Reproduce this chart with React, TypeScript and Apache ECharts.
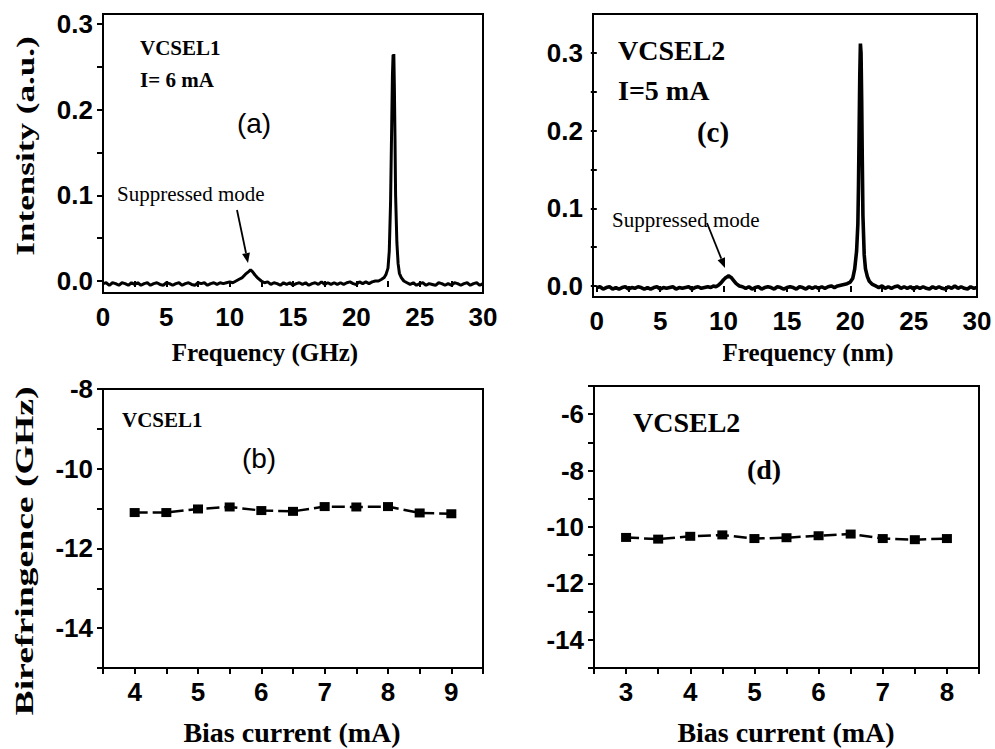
import React, { useEffect, useRef } from "react";
import * as echarts from "echarts";

// ---- Data ----
// (a) VCSEL1 spectrum, I = 6 mA  [frequency GHz, intensity a.u.]
const specA: [number, number][] = [
  [0, -0.003], [0.25, -0.002], [0.5, -0.005], [0.75, -0.002], [1, -0.003], [1.25, -0.005], [1.5, -0.002], [1.75, -0.003],
  [2, -0.005], [2.25, -0.002], [2.5, -0.004], [2.75, -0.002], [3, -0.005], [3.25, -0.003], [3.5, -0.002], [3.75, -0.005],
  [4, -0.003], [4.25, -0.002], [4.5, -0.004], [4.75, -0.005], [5, -0.002], [5.25, -0.003], [5.5, -0.005], [5.75, -0.003],
  [6, -0.002], [6.25, -0.005], [6.5, -0.003], [6.75, -0.002], [7, -0.004], [7.25, -0.005], [7.5, -0.002], [7.75, -0.003],
  [8, -0.002], [8.25, -0.005], [8.5, -0.003], [8.75, -0.002], [9, -0.004], [9.25, -0.002], [9.5, -0.003], [9.75, -0.002],
  [10, -0.001], [10.25, -0.002], [10.5, 0.0], [10.75, 0.002], [11, 0.004], [11.25, 0.008], [11.5, 0.011], [11.65, 0.013],
  [11.8, 0.011], [12, 0.007], [12.25, 0.003], [12.5, 0.0], [12.75, -0.002], [13, -0.001], [13.25, -0.004], [13.5, -0.002],
  [13.75, -0.003], [14, -0.005], [14.25, -0.002], [14.5, -0.004], [14.75, -0.002], [15, -0.005], [15.25, -0.003], [15.5, -0.002],
  [15.75, -0.004], [16, -0.002], [16.25, -0.005], [16.5, -0.003], [16.75, -0.002], [17, -0.004], [17.25, -0.001], [17.5, -0.004],
  [17.75, -0.002], [18, -0.004], [18.25, -0.002], [18.5, -0.004], [18.75, -0.002], [19, -0.004], [19.25, -0.002], [19.5, -0.001],
  [19.75, -0.003], [20, -0.004], [20.25, -0.001], [20.5, -0.003], [20.75, -0.001], [21, -0.003], [21.25, -0.001], [21.5, 0.0],
  [21.75, 0.0], [22, 0.002], [22.2, 0.004], [22.35, 0.008], [22.5, 0.015], [22.6, 0.035], [22.7, 0.09], [22.8, 0.19],
  [22.85, 0.24], [22.9, 0.264], [22.93, 0.24], [22.96, 0.265], [23.0, 0.23], [23.05, 0.17], [23.1, 0.1], [23.2, 0.045],
  [23.3, 0.02], [23.4, 0.009], [23.55, 0.004], [23.75, 0.0], [24, -0.002], [24.25, -0.004], [24.5, -0.002], [24.75, -0.005],
  [25, -0.003], [25.25, -0.002], [25.5, -0.005], [25.75, -0.003], [26, -0.004], [26.25, -0.005], [26.5, -0.002], [26.75, -0.003],
  [27, -0.005], [27.25, -0.003], [27.5, -0.005], [27.75, -0.002], [28, -0.003], [28.25, -0.005], [28.5, -0.003], [28.75, -0.002],
  [29, -0.005], [29.25, -0.003], [29.5, -0.002], [29.75, -0.005], [30, -0.003],
];

// (c) VCSEL2 spectrum, I = 5 mA  [frequency, intensity a.u.]
const specC: [number, number][] = [
  [0, -0.002], [0.25, -0.001], [0.5, -0.004], [0.75, -0.002], [1, -0.001], [1.25, -0.004], [1.5, -0.002], [1.75, -0.004],
  [2, -0.002], [2.25, -0.001], [2.5, -0.004], [2.75, -0.002], [3, -0.003], [3.25, -0.001], [3.5, -0.002], [3.75, -0.004],
  [4, -0.002], [4.25, -0.004], [4.5, -0.002], [4.75, -0.001], [5, -0.004], [5.25, -0.002], [5.5, -0.003], [5.75, -0.002],
  [6, -0.001], [6.25, -0.004], [6.5, -0.002], [6.75, -0.003], [7, -0.002], [7.25, -0.001], [7.5, -0.004], [7.75, -0.002],
  [8, -0.001], [8.25, -0.003], [8.5, -0.002], [8.75, -0.001], [9, -0.002], [9.2, 0.0], [9.4, -0.001], [9.6, 0.001],
  [9.8, 0.004], [10, 0.008], [10.2, 0.011], [10.4, 0.013], [10.6, 0.011], [10.8, 0.007], [11, 0.003], [11.25, 0.0],
  [11.5, -0.001], [11.75, -0.003], [12, -0.001], [12.25, -0.004], [12.5, -0.002], [12.75, -0.001], [13, -0.004], [13.25, -0.002],
  [13.5, -0.001], [13.75, -0.002], [14, -0.004], [14.25, -0.001], [14.5, -0.002], [14.75, -0.004], [15, -0.002], [15.25, -0.001],
  [15.5, -0.002], [15.75, -0.004], [16, -0.001], [16.25, -0.002], [16.5, -0.004], [16.75, -0.001], [17, -0.003], [17.25, -0.001],
  [17.5, -0.003], [17.75, -0.001], [18, -0.003], [18.25, -0.001], [18.5, 0.0], [18.75, -0.002], [19, 0.0], [19.25, 0.001],
  [19.5, 0.002], [19.75, 0.003], [20, 0.005], [20.2, 0.01], [20.35, 0.022], [20.5, 0.045], [20.6, 0.08], [20.65, 0.13],
  [20.7, 0.2], [20.75, 0.27], [20.8, 0.312], [20.85, 0.3], [20.9, 0.24], [20.95, 0.16], [21, 0.09], [21.1, 0.04],
  [21.2, 0.022], [21.35, 0.012], [21.5, 0.006], [21.75, 0.002], [22, 0.0], [22.25, -0.002], [22.5, 0.0], [22.75, -0.003],
  [23, -0.001], [23.25, -0.003], [23.5, -0.001], [23.75, 0.0], [24, -0.003], [24.25, -0.001], [24.5, -0.003], [24.75, -0.001],
  [25, -0.004], [25.25, -0.001], [25.5, -0.003], [25.75, -0.001], [26, -0.003], [26.25, -0.004], [26.5, -0.001], [26.75, -0.003],
  [27, -0.001], [27.25, -0.003], [27.5, -0.004], [27.75, -0.001], [28, -0.003], [28.25, 0.0], [28.5, -0.003], [28.75, -0.001],
  [29, -0.003], [29.25, -0.004], [29.5, -0.001], [29.75, -0.003], [30, -0.002],
];

// (b) VCSEL1 birefringence vs bias current
const biasB = [4, 4.5, 5, 5.5, 6, 6.5, 7, 7.5, 8, 8.5, 9];
const biref1 = [-11.1, -11.1, -11.01, -10.96, -11.05, -11.07, -10.95, -10.96, -10.95, -11.11, -11.13];

// (d) VCSEL2 birefringence vs bias current
const biasD = [3, 3.5, 4, 4.5, 5, 5.5, 6, 6.5, 7, 7.5, 8];
const biref2 = [-10.37, -10.43, -10.33, -10.28, -10.41, -10.38, -10.31, -10.25, -10.41, -10.45, -10.41];

// tick values
const freqLabels = [0, 5, 10, 15, 20, 25, 30];
const freqTicks = [0, 2.5, 5, 7.5, 10, 12.5, 15, 17.5, 20, 22.5, 25, 27.5, 30];
const intLabels = [0, 0.1, 0.2, 0.3];
const intTicks = [0, 0.05, 0.1, 0.15, 0.2, 0.25, 0.3];
const biasLabelsB = [4, 5, 6, 7, 8, 9];
const biasTicksB = [3.5, 4, 4.5, 5, 5.5, 6, 6.5, 7, 7.5, 8, 8.5, 9, 9.5];
const birefLabelsB = [-14, -12, -10, -8];
const birefTicksB = [-15, -14, -13, -12, -11, -10, -9, -8];
const biasLabelsD = [3, 4, 5, 6, 7, 8];
const biasTicksD = [2.5, 3, 3.5, 4, 4.5, 5, 5.5, 6, 6.5, 7, 7.5, 8, 8.5];
const birefLabelsD = [-14, -12, -10, -8, -6];
const birefTicksD = [-15, -14, -13, -12, -11, -10, -9, -8, -7, -6, -5];

const SANS = "Liberation Sans";
const SERIF = "Liberation Serif";

function xAxisCfg(gridIndex: number, min: number, max: number, labels: number[], ticks: number[]) {
  return {
    type: "value",
    gridIndex,
    min,
    max,
    axisLine: { show: false },
    splitLine: { show: false },
    axisTick: { show: true, customValues: ticks, length: 6, lineStyle: { color: "#000", width: 2 } },
    axisLabel: {
      customValues: labels,
      margin: 11,
      color: "#000",
      fontFamily: SANS,
      fontWeight: "bold",
      fontSize: 26,
      formatter: (v: number) => String(v),
    },
  };
}

function yAxisCfg(gridIndex: number, min: number, max: number, labels: number[], ticks: number[], digits: number) {
  return {
    type: "value",
    gridIndex,
    min,
    max,
    axisLine: { show: false },
    splitLine: { show: false },
    axisTick: { show: true, customValues: ticks, length: 6, lineStyle: { color: "#000", width: 2 } },
    axisLabel: {
      customValues: labels,
      margin: 10,
      color: "#000",
      fontFamily: SANS,
      fontWeight: "bold",
      fontSize: 26,
      formatter: (v: number) => v.toFixed(digits),
    },
  };
}

function txt(text: string, x: number, y: number, font: string, align = "left", extra: any = {}) {
  return {
    type: "text",
    x,
    y,
    ...extra,
    style: { text, font, fill: "#000", align, verticalAlign: "middle" },
  };
}

export default function App() {
  const ref = useRef<HTMLDivElement>(null);
  useEffect(() => {
    if (!ref.current) return;
    const chart = echarts.init(ref.current, null, { renderer: "svg" });
    const gridBox = { show: true, borderColor: "#000", borderWidth: 2, backgroundColor: "transparent" };
    const option: any = {
      animation: false,
      backgroundColor: "#fff",
      grid: [
        { left: 103, top: 14, width: 380, height: 279, ...gridBox },
        { left: 593, top: 14, width: 384, height: 283, ...gridBox },
        { left: 103, top: 389, width: 380, height: 279, ...gridBox },
        { left: 594, top: 386, width: 385, height: 282, ...gridBox },
      ],
      xAxis: [
        xAxisCfg(0, 0, 30, freqLabels, freqTicks),
        xAxisCfg(1, -0.3, 30, freqLabels, freqTicks),
        xAxisCfg(2, 3.5, 9.5, biasLabelsB, biasTicksB),
        xAxisCfg(3, 2.5, 8.5, biasLabelsD, biasTicksD),
      ],
      yAxis: [
        yAxisCfg(0, -0.014, 0.3117, intLabels, intTicks, 1),
        yAxisCfg(1, -0.0142, 0.35, intLabels, intTicks, 1),
        yAxisCfg(2, -15, -8, birefLabelsB, birefTicksB, 0),
        yAxisCfg(3, -15, -5, birefLabelsD, birefTicksD, 0),
      ],
      series: [
        {
          type: "line",
          xAxisIndex: 0,
          yAxisIndex: 0,
          data: specA,
          showSymbol: false,
          lineStyle: { color: "#000", width: 3 },
          clip: true,
        },
        {
          type: "line",
          xAxisIndex: 1,
          yAxisIndex: 1,
          data: specC,
          showSymbol: false,
          lineStyle: { color: "#000", width: 3.6 },
          clip: true,
        },
        {
          type: "line",
          xAxisIndex: 2,
          yAxisIndex: 2,
          data: biasB.map((b, i) => [b, biref1[i]]),
          symbol: "rect",
          symbolSize: [10, 9],
          itemStyle: { color: "#000" },
          lineStyle: { color: "#000", width: 2.5, type: [13, 5] },
        },
        {
          type: "line",
          xAxisIndex: 3,
          yAxisIndex: 3,
          data: biasD.map((b, i) => [b, biref2[i]]),
          symbol: "rect",
          symbolSize: [10, 9],
          itemStyle: { color: "#000" },
          lineStyle: { color: "#000", width: 2.5, type: [13, 5] },
        },
      ],
      graphic: [
        // axis titles
        txt("Intensity (a.u.)", 25, 146, `bold 26px "${SERIF}"`, "center", { rotation: Math.PI / 2, scaleX: 1.35 }),
        txt("Birefringence (GHz)", 24, 551, `bold 26px "${SERIF}"`, "center", { rotation: Math.PI / 2, scaleX: 1.45 }),
        txt("Frequency (GHz)", 265, 352, `bold 25px "${SERIF}"`, "center"),
        txt("Frequency (nm)", 808, 352, `bold 25px "${SERIF}"`, "center"),
        txt("Bias current (mA)", 292, 732, `bold 28px "${SERIF}"`, "center"),
        txt("Bias current (mA)", 786, 732, `bold 28px "${SERIF}"`, "center"),
        // panel annotations
        txt("VCSEL1", 140, 48, `bold 21px "${SERIF}"`),
        txt("I= 6 mA", 140, 80, `bold 21px "${SERIF}"`),
        txt("(a)", 254, 123, `28px "${SANS}"`, "center"),
        txt("VCSEL2", 618, 50, `bold 28px "${SERIF}"`),
        txt("I=5 mA", 618, 90, `bold 28px "${SERIF}"`),
        txt("(c)", 713, 132, `bold 29px "${SERIF}"`, "center"),
        txt("VCSEL1", 122, 420, `bold 21px "${SERIF}"`),
        txt("(b)", 259, 458, `28px "${SANS}"`, "center"),
        txt("VCSEL2", 633, 422, `bold 28px "${SERIF}"`),
        txt("(d)", 764, 469, `bold 28px "${SERIF}"`, "center"),
        txt("Suppressed mode", 117, 194, `21px "${SERIF}"`),
        txt("Suppressed mode", 612, 220, `21px "${SERIF}"`),
        // arrows
        { type: "line", shape: { x1: 237, y1: 210, x2: 246, y2: 253 }, style: { stroke: "#000", lineWidth: 1.8 } },
        { type: "polygon", shape: { points: [[248, 263], [249.9, 252.4], [242.1, 254.0]] }, style: { fill: "#000" } },
        { type: "line", shape: { x1: 707, y1: 223, x2: 721.3, y2: 258.7 }, style: { stroke: "#000", lineWidth: 1.8 } },
        { type: "polygon", shape: { points: [[725, 268], [725.0, 257.2], [717.6, 260.2]] }, style: { fill: "#000" } },
      ],
    };
    chart.setOption(option);
    return () => chart.dispose();
  }, []);
  return (
    <div
      ref={ref}
      style={{ position: "fixed", left: 0, top: 0, width: 995, height: 749, background: "#fff" }}
    />
  );
}
